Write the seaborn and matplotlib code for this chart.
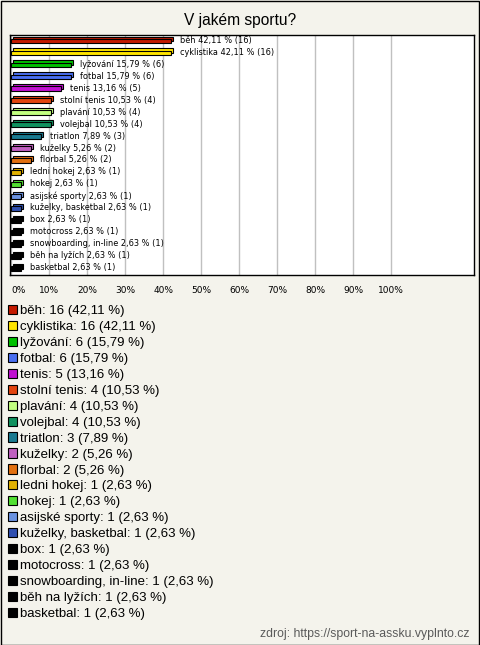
import matplotlib
matplotlib.use("Agg")
import matplotlib.pyplot as plt
import matplotlib.patheffects as pe
from matplotlib.patches import Rectangle
import seaborn as sns
import pandas as pd

# ---- data ----
sports = ["běh", "cyklistika", "lyžování", "fotbal", "tenis", "stolní tenis",
          "plavání", "volejbal", "triatlon", "kuželky", "florbal", "ledni hokej",
          "hokej", "asijské sporty", "kuželky, basketbal", "box", "motocross",
          "snowboarding, in-line", "běh na lyžích", "basketbal"]
counts = [16, 16, 6, 6, 5, 4, 4, 4, 3, 2, 2, 1, 1, 1, 1, 1, 1, 1, 1, 1]
percents = [42.11, 42.11, 15.79, 15.79, 13.16, 10.53, 10.53, 10.53, 7.89, 5.26,
            5.26, 2.63, 2.63, 2.63, 2.63, 2.63, 2.63, 2.63, 2.63, 2.63]
colors = ["#c41a00", "#ffe500", "#00c000", "#4a6ff0", "#c010d0", "#e34510",
          "#c2ff80", "#10915e", "#1a7a90", "#c060c0", "#e27010", "#e0b000",
          "#52e032", "#6a92e0", "#3050b0", "#000000", "#000000", "#000000",
          "#000000", "#000000"]
xticks = [0, 10, 20, 30, 40, 50, 60, 70, 80, 90, 100]
title = "V jakém sportu?"
footer = "zdroj: https://sport-na-assku.vyplnto.cz"

W, H = 480, 645
bg = "#f4f3ec"

sns.set_theme(style="white")
plt.rcParams["font.family"] = ["Liberation Sans", "DejaVu Sans"]
plt.rcParams["text.color"] = "black"
plt.rcParams["xtick.color"] = "black"

fig = plt.figure(figsize=(W / 100, H / 100), dpi=100, facecolor=bg)
ax = fig.add_axes([10 / W, 1 - 275 / H, 464 / W, 240 / H])
ax.set_facecolor("white")

df = pd.DataFrame({"sport": sports, "pct": percents, "count": counts})
sns.barplot(data=df, x="pct", y="sport", hue="sport",
            palette=dict(zip(sports, colors)), width=0.4, saturation=1,
            edgecolor="black", linewidth=0.8, legend=False, ax=ax, zorder=3)

for p in ax.patches:
    fc = p.get_facecolor()
    p.set_path_effects([
        pe.PathPatchEffect(offset=(1.5, 1.5), facecolor=fc, edgecolor="black",
                           linewidth=0.8),
        pe.Normal(),
    ])

for i, (s, v, c) in enumerate(zip(sports, percents, counts)):
    lab = f"{s} {v:.2f}".replace(".", ",") + f" % ({c})"
    ax.annotate(lab, xy=(v, i), xytext=(6, 0.5), textcoords="offset points",
                ha="left", va="center", fontsize=5.9, family="DejaVu Sans",
                color="black", zorder=4)

ax.set_xlim(-0.34, 121.8)
ax.set_ylim(len(sports) - 0.45, -0.5)
ax.set_xticks(xticks)
ax.set_xticklabels([f"{t}%" for t in xticks], fontsize=6.5, family="DejaVu Sans")
ax.get_xticklabels()[0].set_ha("left")
ax.tick_params(axis="x", length=0, pad=8, colors="black")
ax.set_yticks([])
ax.set_xlabel("")
ax.set_ylabel("")
ax.xaxis.grid(True, color="#c0c0c0", linewidth=1, zorder=0)
ax.set_axisbelow(True)
for sp in ax.spines.values():
    sp.set_visible(True)
    sp.set_color("black")
    sp.set_linewidth(1)

fig.text(0.5, 1 - 20 / H, title, ha="center", va="center", fontsize=11.2,
         color="black")

handles = [Rectangle((0, 0), 1, 1, facecolor=col, edgecolor="black", linewidth=0.8)
           for col in colors]
labels = [f"{s}: {c} ({v:.2f}".replace(".", ",") + " %)"
          for s, c, v in zip(sports, counts, percents)]
fig.legend(handles, labels, loc="upper left", bbox_to_anchor=(8 / W, 1 - 305 / H),
           frameon=False, fontsize=9.5, handlelength=0.7, handleheight=0.7,
           handletextpad=0.22, labelspacing=0.28, borderaxespad=0, borderpad=0,
           labelcolor="black")

fig.text(470 / W, 1 - 634 / H, footer, ha="right", va="center", fontsize=8.8,
         color="#5a5a5a")

fig.patches.append(Rectangle((0.5 / W, 0.5 / H), 1 - 1.5 / W, 1 - 1.5 / H,
                             transform=fig.transFigure, fill=False,
                             edgecolor="black", linewidth=1))

fig.savefig("out.png", dpi=100, facecolor=bg)
